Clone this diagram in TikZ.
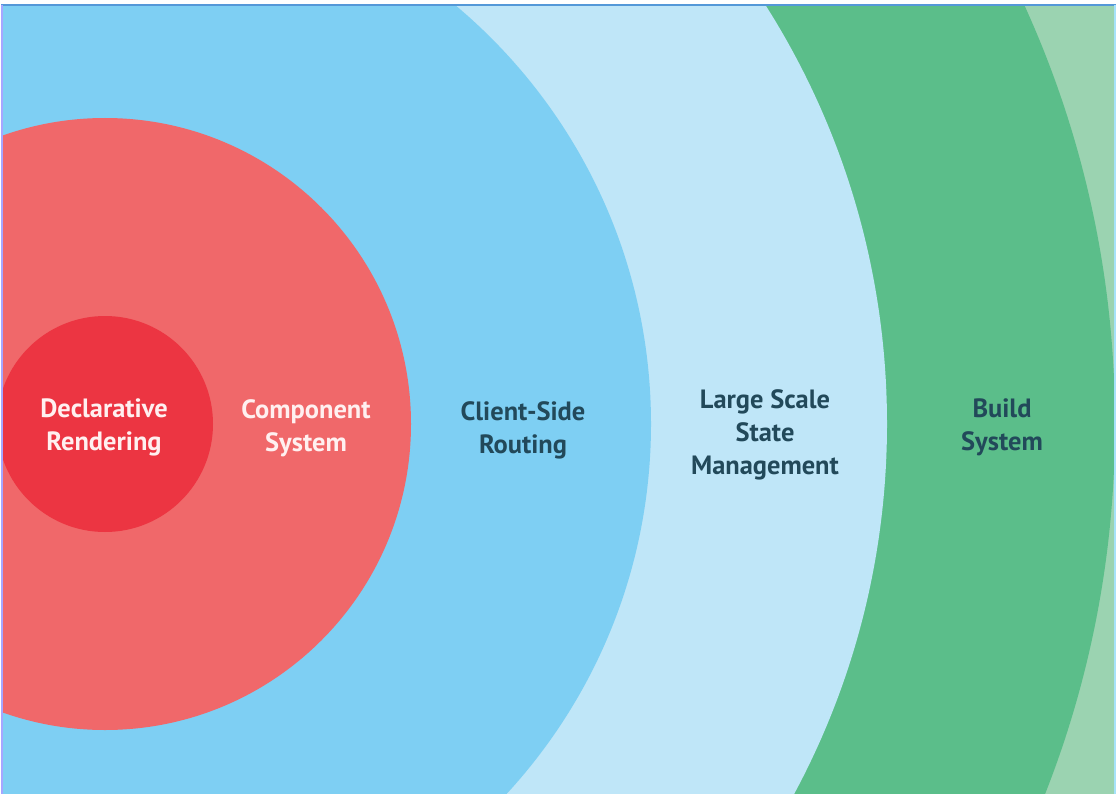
\documentclass[tikz,border=0pt]{standalone}
\usepackage{fontspec}
\setsansfont{PT Sans}
\usetikzlibrary{positioning}
\definecolor{coreRed}{HTML}{EC3542}
\definecolor{compRed}{HTML}{F0686A}
\definecolor{routeBlue}{HTML}{7ECFF3}
\definecolor{stateBlue}{HTML}{BFE6F8}
\definecolor{buildGreen}{HTML}{5BBE8A}
\definecolor{outerGreen}{HTML}{9BD3B1}
\definecolor{inkTeal}{HTML}{22495A}
\tikzset{
  ringtext/.style={align=center, inner sep=2pt, font=\sffamily\bfseries\fontsize{18.8}{23.5}\selectfont},
  lighttext/.style={ringtext, text=white!94!red},
  darktext/.style={ringtext, text=inkTeal},
  frameline/.style={line width=1.2pt}
}

\begin{document}
\begin{tikzpicture}[x=0.025cm,y=0.025cm]
\useasboundingbox (0,0) rectangle (1117,-794);
\fill[white] (0,0) rectangle (1117,-794);
% rings, outermost first
\begin{scope}
\clip (2,-5) rectangle (1115,-794);
\fill[outerGreen] (2,-5) rectangle (1115,-794);
\fill[buildGreen] (105,-424) circle (1010);
\fill[stateBlue] (105,-424) circle (782);
\fill[routeBlue] (105,-424) circle (546);
\fill[compRed] (105,-424) circle (306);
\fill[coreRed] (105,-424) circle (108);
\end{scope}
% frame
\draw[frameline, draw=cyan!60!blue!70!white] (1,-5) -- (1116,-5);
\draw[frameline, draw=blue!35!white] (2,-5) -- (2,-794);
\draw[frameline, draw=cyan!35!white] (1115,-5) -- (1115,-794);
% labels
\node[lighttext] (decl) at (104,-427) {Declarative\\Rendering};
\node[lighttext] (comp) at (306,-428) {Component\\System};
\node[darktext] (route) at (523,-430) {Client-Side\\Routing};
\node[darktext] (state) at (765,-435) {Large Scale\\State\\Management};
\node[darktext] (build) at (1002,-427) {Build\\System};
\end{tikzpicture}
\end{document}
